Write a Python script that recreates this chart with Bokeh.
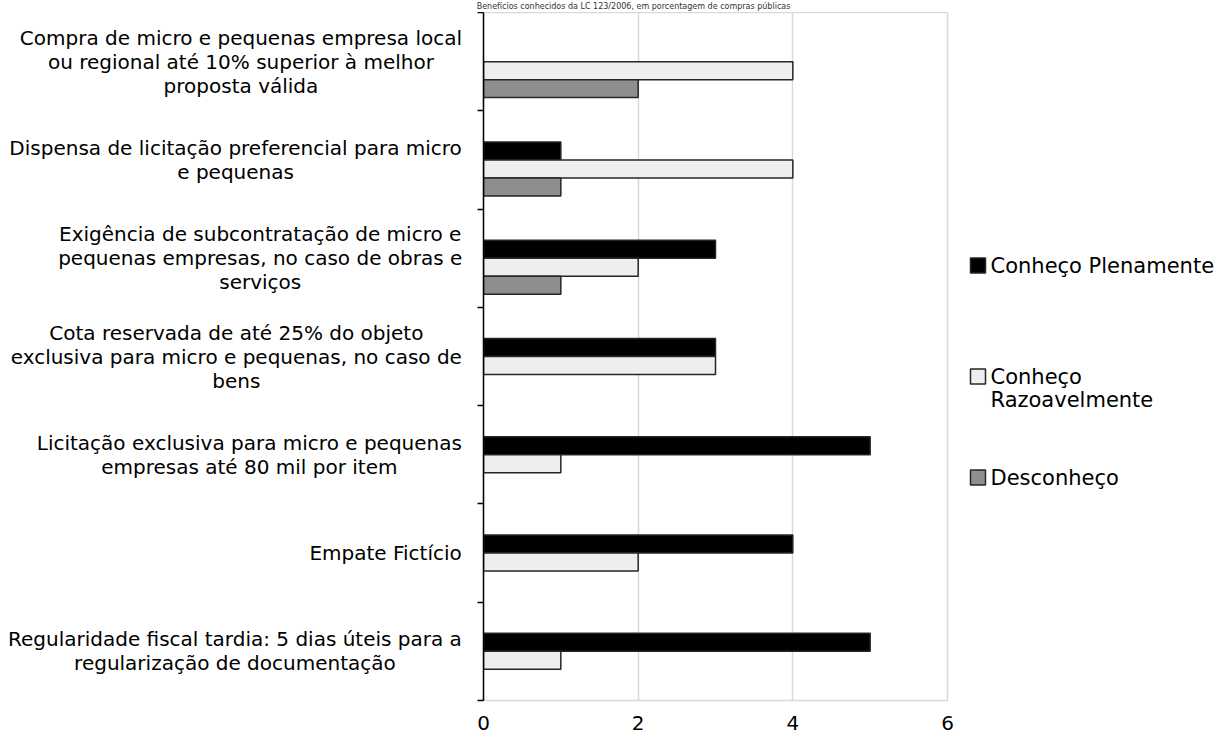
import unicodedata
from bokeh.plotting import figure
from bokeh.models import ColumnDataSource, Range1d, FixedTicker
from bokeh.layouts import row, column
from bokeh.core.properties import value
from bokeh.embed import file_html
from bokeh.resources import INLINE

# ---------------- data ----------------
categories = [
    "Compra de micro e pequenas empresa local\nou regional até 10% superior à melhor\nproposta válida",
    "Dispensa de licitação preferencial para micro\ne pequenas",
    "Exigência de subcontratação de micro e\npequenas empresas, no caso de obras e\nserviços",
    "Cota reservada de até 25% do objeto\nexclusiva para micro e pequenas, no caso de\nbens",
    "Licitação exclusiva para micro e pequenas\nempresas até 80 mil por item",
    "Empate Fictício",
    "Regularidade fiscal tardia: 5 dias úteis para a\nregularização de documentação",
]
series_names = ["Conheço Plenamente", "Conheço Razoavelmente", "Desconheço"]
legend_labels = ["Conheço Plenamente", "Conheço\nRazoavelmente", "Desconheço"]
conheco_plenamente = [0, 1, 3, 3, 5, 4, 5]
conheco_razoavelmente = [4, 4, 2, 3, 1, 2, 1]
desconheco = [2, 1, 1, 0, 0, 0, 0]
x_ticks = [0, 2, 4, 6]
title_text = "Benefícios conhecidos da LC 123/2006, em porcentagem de compras públicas"

# ---------------- style ----------------
FONT = "DejaVu Sans"
FS = 20
fills = ["#000000", "#eeeeee", "#8e8e8e"]
edge = "#262626"
offsets = [-0.0915, 0.0915, 0.2745]
BAR_H = 0.183
LINE = 24
STRIP = 12                                 # height of the title strip
TOP, BOTTOM = STRIP, 700                   # frame top / bottom in page pixels

# DejaVu Sans advance widths (units / 2048) for centring wrapped labels
W = {' ': 651, 'a': 1255, 'b': 1300, 'c': 1126, 'd': 1300, 'e': 1260, 'f': 721,
     'g': 1300, 'h': 1298, 'i': 569, 'j': 569, 'k': 1186, 'l': 569, 'm': 1995,
     'n': 1298, 'o': 1253, 'p': 1300, 'q': 1300, 'r': 842, 's': 1067, 't': 803,
     'u': 1298, 'v': 1212, 'w': 1675, 'x': 1212, 'y': 1212, 'z': 1075,
     'C': 1430, 'D': 1577, 'E': 1294, 'F': 1178, 'L': 1141, 'P': 1235, 'R': 1423,
     ',': 651, ':': 690, '%': 1946, '.': 651}
for d in "0123456789":
    W[d] = 1303


def text_w(s, size=FS):
    tot = 0
    for ch in s:
        base = unicodedata.normalize("NFD", ch)[0]
        tot += W.get(base, 1255)
    return tot / 2048 * size


def bare(fig):
    fig.grid.visible = False
    fig.outline_line_color = None
    fig.background_fill_color = "white"
    fig.border_fill_color = "white"
    return fig


n = len(categories)
y_range = Range1d(n, 0)
H = 735 - STRIP


def page_y(py):
    """page pixel y -> category-axis units (shared y range)"""
    return (py - TOP) / (BOTTOM - TOP) * n


# ---------------- title strip ----------------
fig_top = bare(figure(width=1216, height=STRIP, x_range=Range1d(0, 1216), y_range=Range1d(STRIP, 0),
                      x_axis_type=None, y_axis_type=None,
                      toolbar_location=None, output_backend="svg", min_border=0))
fig_top.text(x=[633], y=[STRIP / 2], text=[title_text], text_font=value(FONT),
             text_font_size="8px", text_align="center", text_baseline="middle",
             text_color="#333333")

# ---------------- category labels ----------------
fig_lab = bare(figure(width=470, height=H, x_range=Range1d(0, 470), y_range=y_range,
                      x_axis_type=None, y_axis_type=None,
                      toolbar_location=None, output_backend="svg",
                      min_border_left=0, min_border_right=0, min_border_top=0,
                      min_border_bottom=735 - BOTTOM))
lx, ly, lt, lo = [], [], [], []
for i, cat in enumerate(categories):
    lines = cat.split("\n")
    bw = max(text_w(l) for l in lines)
    cx = 462 - bw / 2
    for k, l in enumerate(lines):
        lx.append(cx)
        ly.append(i + 0.5)
        lt.append(l)
        lo.append((k - (len(lines) - 1) / 2) * LINE)
fig_lab.text(x="x", y="y", text="t", y_offset="o",
             source=ColumnDataSource(dict(x=lx, y=ly, t=lt, o=lo)),
             text_font=value(FONT), text_font_size=f"{FS}px", text_align="center",
             text_baseline="middle", text_color="#000000")

# ---------------- main chart ----------------
p = figure(width=487, height=H, x_range=Range1d(0, 6), y_range=y_range,
           toolbar_location=None, output_backend="svg",
           min_border_left=13, min_border_right=10, min_border_top=0,
           min_border_bottom=735 - BOTTOM)
p.background_fill_color = "white"
p.border_fill_color = "white"
p.outline_line_color = "#d9d9d9"
p.outline_line_width = 1.5
p.ygrid.visible = False
p.xgrid.grid_line_color = "#d9d9d9"
p.xgrid.grid_line_width = 1.5
p.xaxis.ticker = FixedTicker(ticks=x_ticks)
p.xaxis.axis_line_color = None
p.xaxis.major_tick_line_color = None
p.xaxis.minor_tick_line_color = None
p.xaxis.major_label_text_font = FONT
p.xaxis.major_label_text_font_size = "20px"
p.xaxis.major_label_text_color = "#000000"
p.xaxis.major_label_standoff = 9
p.yaxis.ticker = FixedTicker(ticks=list(range(n + 1)))
p.yaxis.major_label_overrides = {i: "" for i in range(n + 1)}
p.yaxis.major_label_standoff = 0
p.yaxis.axis_line_color = "#000000"
p.yaxis.axis_line_width = 1.5
p.yaxis.major_tick_line_color = "#000000"
p.yaxis.major_tick_line_width = 1.5
p.yaxis.major_tick_out = 6
p.yaxis.major_tick_in = 0
p.yaxis.minor_tick_line_color = None

for vals, off, fc in zip([conheco_plenamente, conheco_razoavelmente, desconheco], offsets, fills):
    ys = [i + 0.5 + off for i, v in enumerate(vals) if v > 0]
    vs = [v for v in vals if v > 0]
    p.hbar(y="y", left=0, right="v", height=BAR_H, source=ColumnDataSource(dict(y=ys, v=vs)),
           fill_color=fc, line_color=edge, line_width=1.5)

# ---------------- legend ----------------
fig_leg = bare(figure(width=259, height=H, x_range=Range1d(957, 1216), y_range=y_range,
                      x_axis_type=None, y_axis_type=None,
                      toolbar_location=None, output_backend="svg",
                      min_border_left=0, min_border_right=0, min_border_top=0,
                      min_border_bottom=735 - BOTTOM))
leg_py = [265, 376, 477]
sq = 15 / (BOTTOM - TOP) * n
fig_leg.rect(x=[977.5] * 3, y=[page_y(v) for v in leg_py], width=15, height=sq,
             fill_color=fills, line_color=edge, line_width=1.5)
tx, ty, tt = [], [], []
for lab, yy in zip(legend_labels, leg_py):
    for k, l in enumerate(lab.split("\n")):
        tx.append(990)
        ty.append(page_y(yy + k * 23))
        tt.append(l)
fig_leg.text(x="x", y="y", text="t", source=ColumnDataSource(dict(x=tx, y=ty, t=tt)),
             text_font=value(FONT), text_font_size="21px", text_align="left",
             text_baseline="middle", text_color="#000000")

layout = column(fig_top, row(fig_lab, p, fig_leg))
open("out.html", "w").write(file_html(layout, INLINE))
